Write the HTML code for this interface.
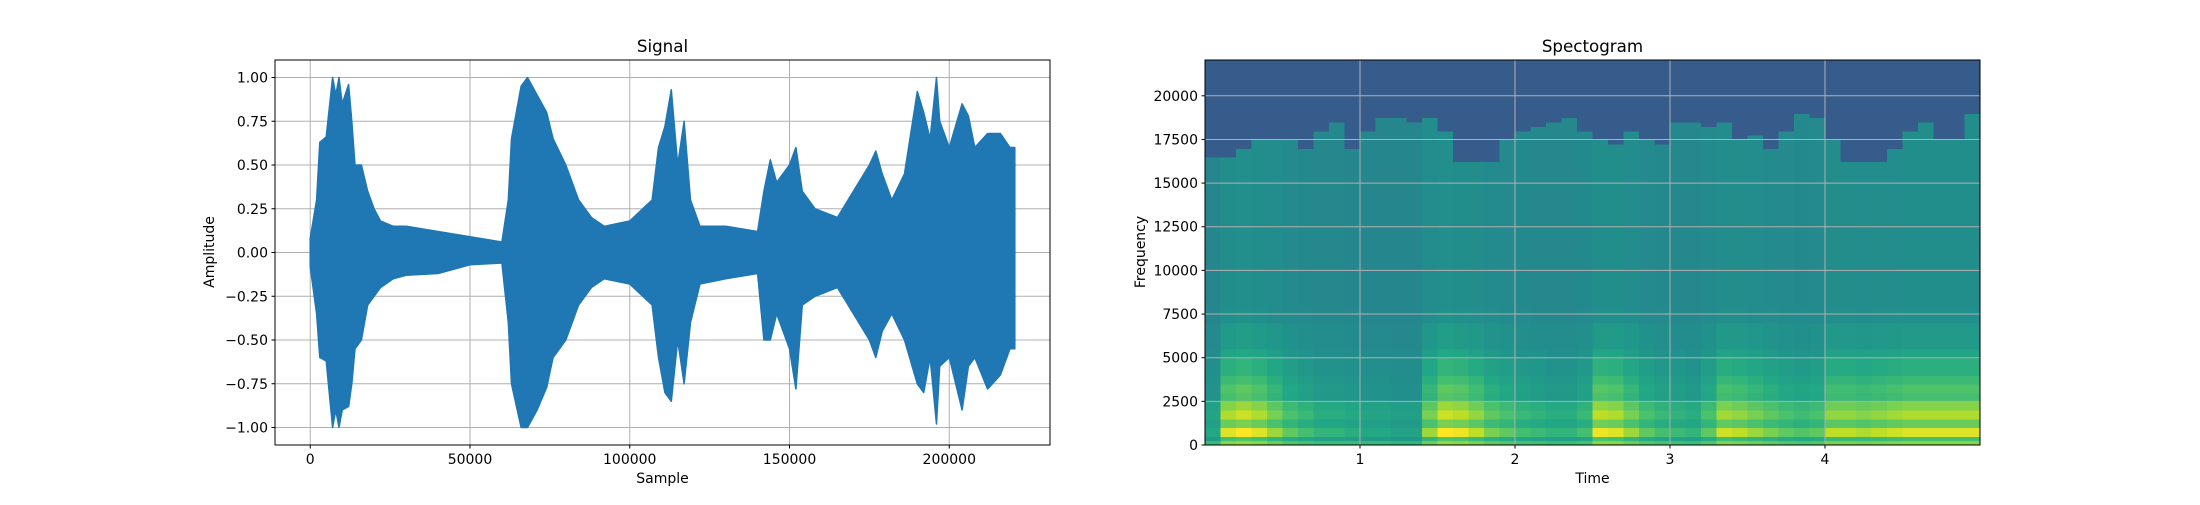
<!DOCTYPE html>
<html><head><meta charset="utf-8">
<style>
html,body{margin:0;padding:0;background:#fff;}
svg text{font-family:"DejaVu Sans","Liberation Sans",sans-serif;fill:#000;}
</style></head>
<body>
<svg id="fig" width="2200" height="500" xmlns="http://www.w3.org/2000/svg">
<rect x="0" y="0" width="2200" height="500" fill="#fff"/>
<g id="ax1"></g>
<g id="ax2"></g>
</svg>
<script>
// ---------- Signal data (envelope breakpoints, samples in thousands) ----------
const sigSampleK = [0,2,3,5,7,8,9,10,12,13,14,16,18,20,22,26,30,40,50,60,62,63,66,68,71,74,76,80,84,88,92,100,107,109,111,113,115,117,119,122,130,140,142,144,146,150,152,154,158,165,175,177,179,182,186,190,192,194,196,197,200,204,206,208,212,216,219,220.5];
const sigUpper = [0.08,0.3,0.63,0.66,1.0,0.9,1.0,0.85,0.96,0.75,0.5,0.5,0.35,0.25,0.18,0.15,0.15,0.12,0.09,0.06,0.3,0.65,0.95,1.0,0.9,0.8,0.65,0.5,0.3,0.2,0.15,0.18,0.3,0.6,0.72,0.93,0.5,0.75,0.3,0.15,0.15,0.12,0.35,0.53,0.4,0.5,0.6,0.35,0.25,0.2,0.5,0.58,0.45,0.3,0.45,0.92,0.8,0.65,1.0,0.75,0.6,0.85,0.78,0.6,0.68,0.68,0.6,0.6];
const sigLower = [-0.08,-0.35,-0.6,-0.62,-1.0,-0.9,-1.0,-0.9,-0.88,-0.75,-0.55,-0.5,-0.3,-0.25,-0.2,-0.15,-0.13,-0.12,-0.07,-0.06,-0.4,-0.75,-1.0,-1.0,-0.9,-0.77,-0.6,-0.5,-0.3,-0.2,-0.15,-0.18,-0.3,-0.6,-0.8,-0.85,-0.5,-0.75,-0.4,-0.18,-0.15,-0.12,-0.5,-0.5,-0.35,-0.55,-0.78,-0.3,-0.25,-0.2,-0.5,-0.6,-0.45,-0.35,-0.5,-0.75,-0.8,-0.6,-0.98,-0.65,-0.6,-0.9,-0.65,-0.6,-0.78,-0.7,-0.55,-0.55];
const sigXTicks = [0,50000,100000,150000,200000];
const sigXTickLabels = ["0","50000","100000","150000","200000"];
const sigYTicks = [-1,-0.75,-0.5,-0.25,0,0.25,0.5,0.75,1];
const sigYTickLabels = ["\u22121.00","\u22120.75","\u22120.50","\u22120.25","0.00","0.25","0.50","0.75","1.00"];

// ---------- Spectrogram data ----------
const specActivity = [0.2,0.9,1,0.9,0.7,0.5,0.4,0.3,0.3,0.25,0.2,0.2,0.15,0.15,0.7,1,0.95,0.8,0.6,0.5,0.4,0.35,0.3,0.3,0.4,0.95,0.9,0.7,0.5,0.4,0.35,0.3,0.5,0.85,0.8,0.7,0.6,0.5,0.45,0.5,0.8,0.8,0.75,0.8,0.85,0.9,0.9,0.9,0.9,0.9];
const specCutoff = [16500,16500,17000,17500,17300,17500,17000,17800,18300,17000,17800,18600,18600,18500,18700,17800,16200,16200,16200,17500,18000,18200,18400,18700,18000,17500,17200,17800,17500,17200,18300,18300,18200,18500,17500,17700,17000,18000,18800,18600,17500,16200,16200,16200,16800,18000,18300,17500,17500,19000];
const specBandProfile = [0.22,0.5,0.3,0.42,0.35,0.28,0.3,0.25,0.2,0.2,0.15,0.1,0.1,0.1,0.05,0.05];
const specXTicks = [1,2,3,4];
const specXTickLabels = ["1","2","3","4"];
const specYTicks = [0,2500,5000,7500,10000,12500,15000,17500,20000];
const specYTickLabels = ["0","2500","5000","7500","10000","12500","15000","17500","20000"];

const NS = "http://www.w3.org/2000/svg";
function mk(tag, attrs, parent){ const e=document.createElementNS(NS,tag); for(const k in attrs) e.setAttribute(k,attrs[k]); parent.appendChild(e); return e; }

const Y0=60, Y1=445;
// ---------- Signal axes ----------
const A1={x0:275,x1:1050};
const sx = s => A1.x0 + (s+11025)/242550*(A1.x1-A1.x0);
const sy = a => (Y0+Y1)/2 - a/1.1*((Y1-Y0)/2);
const ax1=document.getElementById('ax1');
// grid
sigXTicks.forEach(v=>{ const l=mk('line',{x1:sx(v),x2:sx(v),y1:Y0,y2:Y1,stroke:'#b0b0b0','stroke-width':1},ax1);

});
sigYTicks.forEach(v=>{ const l=mk('line',{x1:A1.x0,x2:A1.x1,y1:sy(v),y2:sy(v),stroke:'#b0b0b0','stroke-width':1},ax1);

});
// waveform
let pts=[];
for(let i=0;i<sigSampleK.length;i++) pts.push(sx(sigSampleK[i]*1000).toFixed(1)+','+sy(sigUpper[i]).toFixed(1));
for(let i=sigSampleK.length-1;i>=0;i--) pts.push(sx(sigSampleK[i]*1000).toFixed(1)+','+sy(sigLower[i]).toFixed(1));
const wave=mk('polygon',{points:pts.join(' '),fill:'#1f77b4',stroke:'#1f77b4','stroke-width':1.5,'stroke-linejoin':'round'},ax1);


// frame
const f1=mk('rect',{x:A1.x0,y:Y0,width:A1.x1-A1.x0,height:Y1-Y0,fill:'none',stroke:'#000','stroke-width':1},ax1);


sigXTicks.forEach((v,i)=>{ mk('line',{x1:sx(v),x2:sx(v),y1:Y1,y2:Y1+3.5,stroke:'#000'},ax1);
const t=mk('text',{x:sx(v),y:Y1+19,'font-size':14,'text-anchor':'middle'},ax1); t.textContent=sigXTickLabels[i];

});
sigYTicks.forEach((v,i)=>{ mk('line',{x1:A1.x0-3.5,x2:A1.x0,y1:sy(v),y2:sy(v),stroke:'#000'},ax1);
const t=mk('text',{x:A1.x0-7,y:sy(v)+5,'font-size':14,'text-anchor':'end'},ax1); t.textContent=sigYTickLabels[i];

});
let t1=mk('text',{x:(A1.x0+A1.x1)/2,y:52,'font-size':16.7,'text-anchor':'middle'},ax1); t1.textContent='Signal';


let xl1=mk('text',{x:(A1.x0+A1.x1)/2,y:483,'font-size':14,'text-anchor':'middle'},ax1); xl1.textContent='Sample';


let yl1=mk('text',{x:0,y:0,'font-size':14,'text-anchor':'middle',transform:'translate(214,252) rotate(-90)'},ax1); yl1.textContent='Amplitude';



// ---------- Spectrogram axes ----------
const A2={x0:1205,x1:1980};
const tx = t => A2.x0 + t/5.0*(A2.x1-A2.x0);
const fy = f => Y1 - f/22050*(Y1-Y0);
const ax2=document.getElementById('ax2');
const vir=[[68,1,84],[72,36,117],[65,68,135],[53,95,141],[42,120,142],[33,145,140],[34,168,132],[68,191,112],[122,209,81],[189,223,38],[253,231,37]];
function cmap(v){ v=Math.max(0,Math.min(1,v)); const p=v*10, i=Math.min(9,Math.floor(p)), f=p-i;
 const a=vir[i],b=vir[i+1]; return 'rgb('+[0,1,2].map(k=>Math.round(a[k]+(b[k]-a[k])*f)).join(',')+')'; }
const heat=mk('g',{'shape-rendering':'crispEdges'},ax2);


const rowHz=250, nRows=Math.ceil(22050/rowHz), colT=0.05, nCols=100;
for(let c=0;c<nCols;c++){
  const seg=Math.floor(c/2), act=specActivity[seg], cut=specCutoff[seg];
  for(let r=0;r<nRows;r++){
    const f=r*rowHz; let v;
    if(f>=cut) v=0.29;
    else {
      v = f<250 ? 0.62 : (f<2500 ? 0.5 : 0.45);
      const bi=Math.floor(f/500);
      if(bi<specBandProfile.length) v+=act*specBandProfile[bi];
      else v+=act*0.04;
    }
    const x=tx(c*colT), y=fy(Math.min(22050,f+rowHz));
    const cell=mk('rect',{x:x.toFixed(2),y:y.toFixed(2),width:(tx((c+1)*colT)-x+0.6).toFixed(2),height:(fy(f)-y+0.6).toFixed(2),fill:cmap(v)},heat);
    
    
  }
}
specXTicks.forEach(v=>{ const l=mk('line',{x1:tx(v),x2:tx(v),y1:Y0,y2:Y1,stroke:'#b0b0b0','stroke-width':1},ax2);

});
specYTicks.forEach(v=>{ const l=mk('line',{x1:A2.x0,x2:A2.x1,y1:fy(v),y2:fy(v),stroke:'#b0b0b0','stroke-width':1},ax2);

});
const f2=mk('rect',{x:A2.x0,y:Y0,width:A2.x1-A2.x0,height:Y1-Y0,fill:'none',stroke:'#000','stroke-width':1},ax2);


specXTicks.forEach((v,i)=>{ mk('line',{x1:tx(v),x2:tx(v),y1:Y1,y2:Y1+3.5,stroke:'#000'},ax2);
const t=mk('text',{x:tx(v),y:Y1+19,'font-size':14,'text-anchor':'middle'},ax2); t.textContent=specXTickLabels[i];

});
specYTicks.forEach((v,i)=>{ mk('line',{x1:A2.x0-3.5,x2:A2.x0,y1:fy(v),y2:fy(v),stroke:'#000'},ax2);
const t=mk('text',{x:A2.x0-7,y:fy(v)+5,'font-size':14,'text-anchor':'end'},ax2); t.textContent=specYTickLabels[i];

});
let t2=mk('text',{x:(A2.x0+A2.x1)/2,y:52,'font-size':16.7,'text-anchor':'middle'},ax2); t2.textContent='Spectogram';


let xl2=mk('text',{x:(A2.x0+A2.x1)/2,y:483,'font-size':14,'text-anchor':'middle'},ax2); xl2.textContent='Time';


let yl2=mk('text',{x:0,y:0,'font-size':14,'text-anchor':'middle',transform:'translate(1145,252) rotate(-90)'},ax2); yl2.textContent='Frequency';


</script>
</body></html>
